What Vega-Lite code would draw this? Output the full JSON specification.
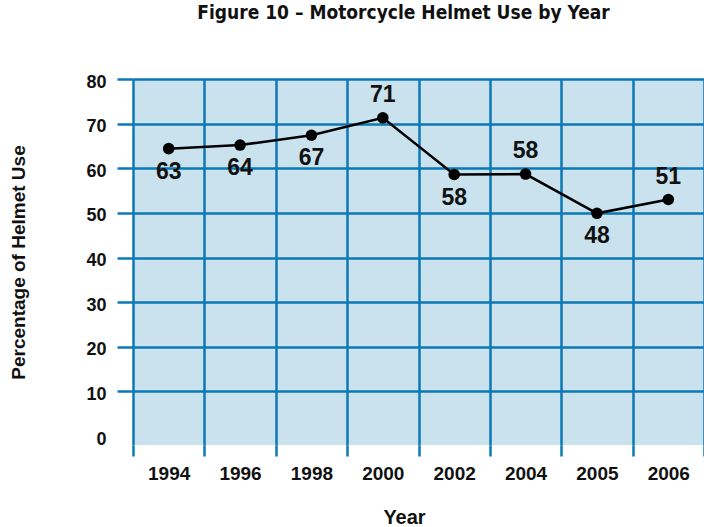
{
  "$schema": "https://vega.github.io/schema/vega-lite/v6.json",
  "width": 571,
  "height": 366,
  "autosize": {"type": "none"},
  "padding": {"left": 133, "top": 79, "right": 0, "bottom": 82},
  "title": {
    "text": "Figure 10 – Motorcycle Helmet Use by Year",
    "font": "Liberation Sans Narrow, DejaVu Sans Condensed, Liberation Sans",
    "fontSize": 19,
    "fontWeight": "bold",
    "color": "#111111",
    "offset": 50,
    "dx": -15
  },
  "config": {
    "view": {"fill": "#c9e2ed", "stroke": null},
    "axis": {
      "labelFont": "Liberation Sans",
      "labelFontWeight": "bold",
      "labelColor": "#111111",
      "titleFont": "Liberation Sans",
      "titleFontWeight": "bold",
      "titleColor": "#111111"
    }
  },
  "data": {
    "values": [
      {"year": "1994", "plotted": 64.4, "label": 63},
      {"year": "1996", "plotted": 65.2, "label": 64},
      {"year": "1998", "plotted": 67.4, "label": 67},
      {"year": "2000", "plotted": 71.3, "label": 71},
      {"year": "2002", "plotted": 58.6, "label": 58},
      {"year": "2004", "plotted": 58.7, "label": 58},
      {"year": "2005", "plotted": 49.9, "label": 48},
      {"year": "2006", "plotted": 53.0, "label": 51}
    ]
  },
  "encoding": {
    "x": {
      "field": "year",
      "type": "ordinal",
      "scale": {"type": "band", "paddingInner": 0, "paddingOuter": 0},
      "axis": {
        "title": "Year",
        "titleFontSize": 20,
        "titleX": 271,
        "titleY": 72,
        "titleBaseline": "middle",
        "labelAngle": 0,
        "labelFontSize": 19,
        "labelPadding": 8,
        "tickBand": "extent",
        "tickSize": 11,
        "tickWidth": 2.5,
        "tickColor": "#0b79b5",
        "grid": true,
        "gridColor": "#0b79b5",
        "gridWidth": 2.5,
        "domain": false
      }
    },
    "y": {
      "field": "plotted",
      "type": "quantitative",
      "scale": {"domain": [-2, 80], "nice": false, "zero": false},
      "axis": {
        "title": "Percentage of Helmet Use",
        "titleFontSize": 19,
        "titleX": -115,
        "titleY": 183,
        "titleAngle": -90,
        "titleAlign": "center",
        "titleBaseline": "middle",
        "values": [0, 10, 20, 30, 40, 50, 60, 70, 80],
        "labelFontSize": 18,
        "labelPadding": 11,
        "labelOffset": 3,
        "tickSize": 16,
        "tickWidth": 2.5,
        "tickColor": {"condition": {"test": "datum.value === 0", "value": "transparent"}, "value": "#0b79b5"},
        "grid": true,
        "gridColor": {"condition": {"test": "datum.value === 0", "value": "transparent"}, "value": "#0b79b5"},
        "gridWidth": 2.5,
        "domain": false
      }
    }
  },
  "layer": [
    {"mark": {"type": "line", "color": "#000000", "strokeWidth": 2.5}},
    {"mark": {"type": "point", "filled": true, "color": "#000000", "opacity": 1, "size": 133}},
    {
      "transform": [{"filter": "indexof(['2000','2004','2006'], datum.year) < 0"}],
      "mark": {"type": "text", "dy": 23, "baseline": "middle", "font": "Liberation Sans", "fontWeight": "bold", "fontSize": 23, "color": "#111111"},
      "encoding": {"text": {"field": "label", "type": "quantitative"}}
    },
    {
      "transform": [{"filter": "indexof(['2000','2004','2006'], datum.year) >= 0"}],
      "mark": {"type": "text", "dy": -23, "baseline": "middle", "font": "Liberation Sans", "fontWeight": "bold", "fontSize": 23, "color": "#111111"},
      "encoding": {"text": {"field": "label", "type": "quantitative"}}
    }
  ]
}
